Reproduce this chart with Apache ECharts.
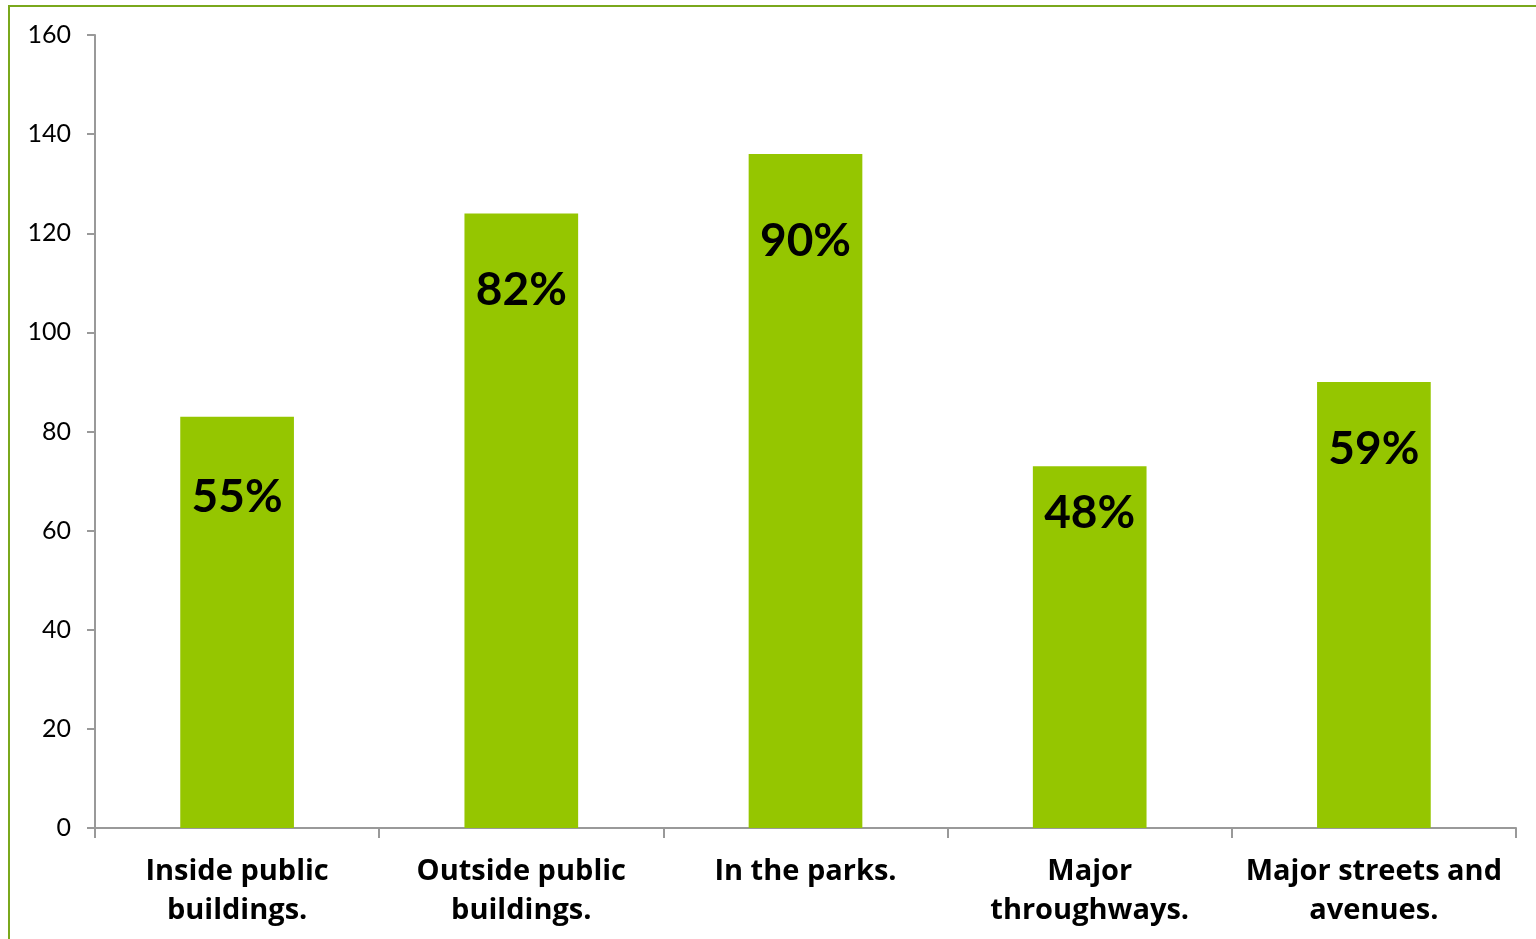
<!DOCTYPE html>
<html><head><meta charset="utf-8">
<script src="https://cdn.jsdelivr.net/npm/echarts@6/dist/echarts.min.js"></script>
<style>
html,body{margin:0;padding:0;background:#fff;}
#frame{position:absolute;left:8px;top:5px;width:1528px;height:934px;border-top:2px solid #7aa81c;border-left:2px solid #7aa81c;box-sizing:border-box;}
#chart{position:absolute;left:0;top:0;width:1536px;height:939px;}
</style></head>
<body>
<div id="frame"></div>
<div id="chart"></div>
<script>
const categories = ['Inside public\nbuildings.', 'Outside public\nbuildings.', 'In the parks.', 'Major\nthroughways.', 'Major streets and\navenues.'];
const values = [83, 124, 136, 73, 90];
const percentLabels = ['55%', '82%', '90%', '48%', '59%'];
const labelDistances = [58, 54, 64, 24, 44];

const chart = echarts.init(document.getElementById('chart'));
chart.setOption({
  animation: false,
  grid: {left: 95, right: 20, top: 35, bottom: 111, containLabel: false},
  xAxis: {
    type: 'category',
    data: categories,
    axisLine: {lineStyle: {color: '#999999', width: 2}},
    axisTick: {show: true, length: 10, lineStyle: {color: '#999999', width: 2}, alignWithLabel: false},
    axisLabel: {color: '#000', fontSize: 29, fontWeight: 'bold', fontFamily: '"Open Sans", Lato, sans-serif', lineHeight: 39, margin: 24, interval: 0}
  },
  yAxis: {
    type: 'value', min: 0, max: 160, interval: 20,
    axisLine: {show: true, lineStyle: {color: '#999999', width: 2}},
    axisTick: {show: true, length: 8, lineStyle: {color: '#999999', width: 2}},
    splitLine: {show: false},
    axisLabel: {color: '#000', fontSize: 25, fontFamily: 'Lato, "DejaVu Sans", sans-serif', margin: 24}
  },
  series: [{
    type: 'bar',
    barWidth: '40%',
    data: values.map((v, i) => ({
      value: v,
      label: {show: true, position: 'insideTop', distance: labelDistances[i], formatter: percentLabels[i]}
    })),
    itemStyle: {color: '#95c600'},
    label: {color: '#000', fontSize: 46, fontWeight: 'bold', fontFamily: 'Lato, "DejaVu Sans", sans-serif'}
  }]
});
</script>
</body></html>
